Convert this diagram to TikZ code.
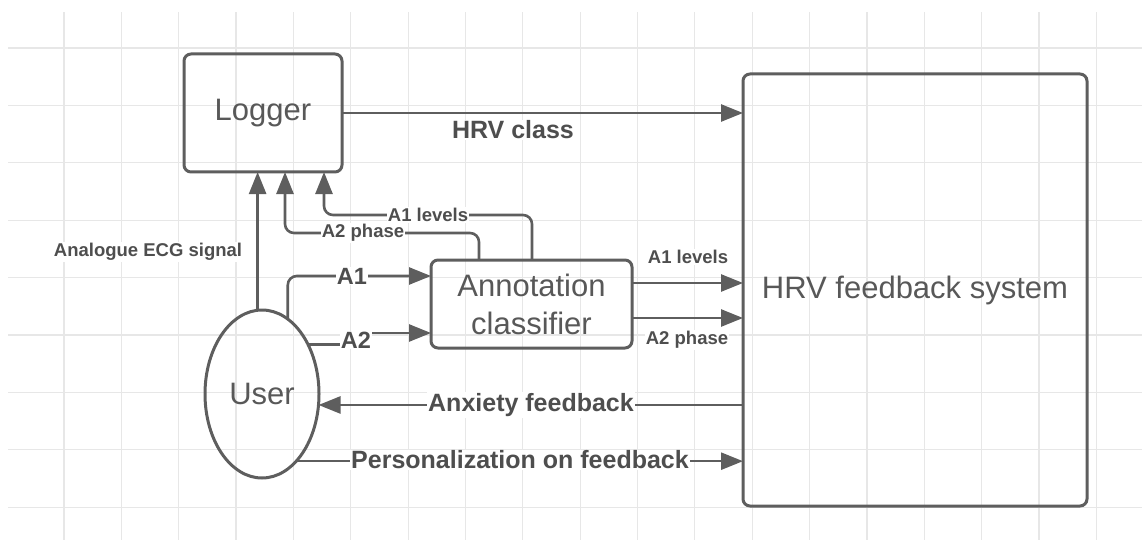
\documentclass[tikz,border=0pt]{standalone}
\usepackage{fontspec}
\setmainfont{Liberation Sans}
\usetikzlibrary{arrows.meta,shapes.geometric}
\definecolor{ink}{RGB}{94,94,94}
\definecolor{txt}{RGB}{88,88,88}
\definecolor{lbl}{RGB}{78,78,78}
\definecolor{gridc}{RGB}{231,231,231}

\begin{document}
\begin{tikzpicture}[x=1pt,y=-1pt,
  box/.style={draw=ink, line width=3pt, rounded corners=7pt, outer sep=0pt,
    text=txt, font=\fontsize{31}{38}\selectfont, align=center},
  oval/.style={draw=ink, line width=3pt, ellipse, inner sep=0pt, outer sep=0pt,
    text=txt, font=\fontsize{31}{38}\selectfont},
  conn/.style={draw=ink, line width=2.6pt, rounded corners=9pt,
    -{Triangle[length=22pt,width=17pt]}},
  lblL/.style={text=lbl, font=\fontsize{25}{28}\selectfont\bfseries, fill=white, inner sep=1pt},
  lblM/.style={text=lbl, font=\fontsize{23.5}{28}\selectfont\bfseries, fill=white, inner sep=1pt},
  lblS/.style={text=lbl, font=\fontsize{18.5}{22}\selectfont\bfseries, fill=white, inner sep=1pt},
]
\useasboundingbox (0,0) rectangle (1142,540);

% background grid
\foreach \i in {0,...,18}
  \draw[gridc, line width=1.2pt] ({64+57.35*\i},12) -- ({64+57.35*\i},540);
\foreach \j in {0,...,8}
  \draw[gridc, line width=1.2pt] (8,{48+57.4*\j}) -- (1142,{48+57.4*\j});

% blocks
\node[box, minimum width=158pt, minimum height=118pt] (logger) at (263,113) {Logger};
\node[box, minimum width=201pt, minimum height=88pt] (ann) at (531.5,304) {Annotation\\classifier};
\node[box, minimum width=344pt, minimum height=432pt] (hrv) at (915,290) {HRV feedback system};
\node[oval, minimum width=114pt, minimum height=168pt] (user) at (262,394) {User};

% helper coordinates for connector routing
\coordinate (ka2) at (479,233);
\coordinate (kx2) at (285,0);
\coordinate (ka1) at (532,215);
\coordinate (kx1) at (324,0);
\coordinate (yA1) at (0,276);
\coordinate (yA2) at (0,333);
\coordinate (jog) at (356,0);
\coordinate (yL1) at (0,283);
\coordinate (yP2) at (0,318);

% connectors
\draw[conn] (logger.east) -- (hrv.west |- logger.east);
\draw[conn] (user.93) -- (logger.south -| user.93);
\draw[conn] (ann.north -| ka2) -- (ka2) -| (logger.south -| kx2);
\draw[conn] (ann.north -| ka1) -- (ka1) -| (logger.south -| kx1);
\draw[conn] (user.71) |- (ann.west |- yA1);
\draw[conn, rounded corners=0pt] (user.47) -- (user.47 -| jog) -- (jog |- yA2) -- (ann.west |- yA2);
\draw[conn] (ann.east |- yL1) -- (hrv.west |- yL1);
\draw[conn] (ann.east |- yP2) -- (hrv.west |- yP2);
\draw[conn] (hrv.west |- user.349) -- (user.349);
\draw[conn] (user.297) -- (hrv.west |- user.297);

% labels
\node[lblL] (lhrv) at (513,130) {HRV class};
\node[lblS] (lecg) at (148,252) {Analogue ECG signal};
\node[lblS] (la2up) at (363,233) {A2 phase};
\node[lblS] (la1up) at (428,215) {A1 levels};
\node[lblM] (la1) at (352,276) {A1};
\node[lblM] (la2) at (356,340) {A2};
\node[lblS] (la1r) at (688,257) {A1 levels};
\node[lblS] (la2r) at (687,340) {A2 phase};
\node[lblL] (lanx) at (531,405) {Anxiety feedback};
\node[lblL] (lper) at (520,460) {Personalization on feedback};
\end{tikzpicture}
\end{document}
